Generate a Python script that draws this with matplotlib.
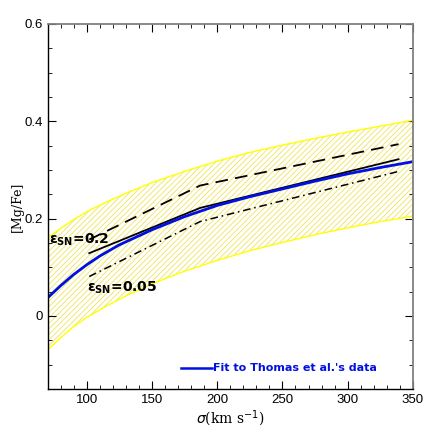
import numpy as np
import matplotlib.pyplot as plt

# band of Thomas et al. relation (upper / lower edges)
band_sigma = [70, 80, 90, 100, 115, 130, 150, 175, 200, 225, 250, 275, 300, 325, 350]
band_upper = [0.160, 0.180, 0.198, 0.214, 0.234, 0.252, 0.274, 0.297, 0.318, 0.336, 0.351, 0.365, 0.378, 0.390, 0.402]
band_lower = [-0.070, -0.045, -0.022, -0.003, 0.020, 0.041, 0.066, 0.092, 0.114, 0.134, 0.151, 0.167, 0.181, 0.194, 0.205]

# fit to Thomas et al.'s data
fit_sigma = [70, 80, 90, 100, 110, 125, 150, 175, 200, 225, 250, 275, 300, 325, 350]
fit_mgfe = [0.037, 0.062, 0.085, 0.105, 0.123, 0.146, 0.177, 0.204, 0.227, 0.245, 0.261, 0.277, 0.292, 0.305, 0.317]

# models
model_sigma = [102, 187, 339]
model_mid = [0.129, 0.222, 0.322]
model_high = [0.157, 0.268, 0.353]
model_low = [0.081, 0.194, 0.297]

plt.rcParams['hatch.linewidth'] = 0.6

fig = plt.figure(figsize=(4.36, 4.36), dpi=100)
ax = fig.add_axes([0.109, 0.108, 0.838, 0.837])

ax.fill_between(band_sigma, band_lower, band_upper, facecolor='none',
                edgecolor='#eee45a', linewidth=0, hatch='//////')
ax.plot(band_sigma, band_upper, color='yellow', lw=1.0)
ax.plot(band_sigma, band_lower, color='yellow', lw=1.0)

ax.plot(model_sigma, model_high, color='black', lw=1.3, ls=(0, (7, 4)))
ax.plot(model_sigma, model_mid, color='black', lw=1.3)
ax.plot(model_sigma, model_low, color='black', lw=1.1, ls=(0, (5, 2.5, 1, 2.5)))
ax.plot(fit_sigma, fit_mgfe, color='#0010e0', lw=2.0)

ax.text(71.5, 0.157, r'$\mathbf{\epsilon}_{\rm \mathbf{SN}}$=0.2', fontsize=10,
        fontweight='bold', va='center')
ax.text(100.5, 0.058, r'$\mathbf{\epsilon}_{\rm \mathbf{SN}}$=0.05', fontsize=10,
        fontweight='bold', va='center')

ax.plot([172, 196], [-0.108, -0.108], color='#0010e0', lw=1.8)
ax.text(196.5, -0.108, "Fit to Thomas et al.'s data", color='#0010e0',
        fontsize=8, fontweight='bold', va='center', ha='left')

ax.set_xlim(70, 350)
ax.set_ylim(-0.15, 0.6)
ax.set_xticks([100, 150, 200, 250, 300, 350])
ax.set_xticks(np.arange(70, 351, 10), minor=True)
ax.set_yticks([0, 0.2, 0.4, 0.6])
ax.set_yticklabels(['0', '0.2', '0.4', '0.6'])
ax.set_yticks(np.arange(-0.15, 0.6, 0.05), minor=True)
ax.tick_params(which='both', direction='in', top=True, right=True,
               labelsize=9.5)
ax.tick_params(which='major', length=6)
ax.tick_params(which='minor', length=3)
for lab in ax.get_xticklabels() + ax.get_yticklabels():
    lab.set_family('Liberation Sans')

for side in ['top', 'right']:
    ax.spines[side].set_color('#808080')
    ax.spines[side].set_linewidth(1.3)
for side in ['left', 'bottom']:
    ax.spines[side].set_linewidth(1.0)

ax.set_xlabel(r'$\sigma$(km s$^{-1}$)', family='DejaVu Serif', fontsize=10,
              labelpad=2)
ax.set_ylabel('[Mg/Fe]', family='DejaVu Serif', fontsize=9, labelpad=0)

fig.savefig('out.png', dpi=100)
